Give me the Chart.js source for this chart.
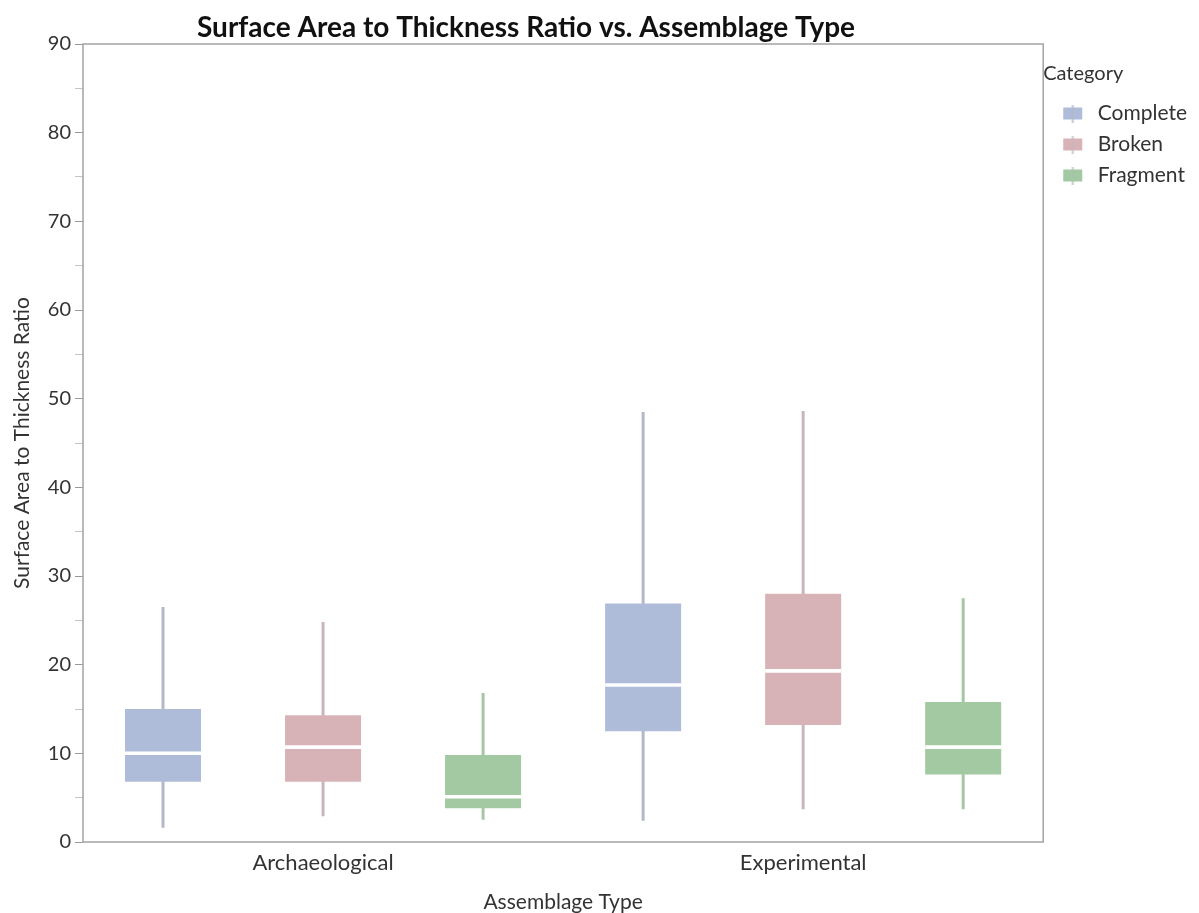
<!DOCTYPE html>
<html>
<head>
<meta charset="utf-8">
<script src="https://cdn.jsdelivr.net/npm/chart.js@4/dist/chart.umd.min.js"></script>
<style>
  html, body { margin: 0; padding: 0; background: #fff; }
  #wrap { width: 1199px; height: 913px; }
</style>
</head>
<body>
<div id="wrap"><canvas id="myChart" width="1199" height="913"></canvas></div>
<script>
// data
const assemblage = ["Archaeological", "Experimental"];
const groups = ["Complete", "Broken", "Fragment"];
const yTicks = [0, 10, 20, 30, 40, 50, 60, 70, 80, 90];

// per group: [Archaeological, Experimental]
const whiskerLow = { Complete: [1.6, 2.4], Broken: [2.9, 3.7], Fragment: [2.5, 3.7] };
const q1 = { Complete: [6.8, 12.5], Broken: [6.8, 13.2], Fragment: [3.8, 7.6] };
const median = { Complete: [10.0, 17.7], Broken: [10.7, 19.3], Fragment: [5.1, 10.7] };
const q3 = { Complete: [15.0, 26.9], Broken: [14.3, 28.0], Fragment: [9.8, 15.8] };
const whiskerHigh = { Complete: [26.5, 48.5], Broken: [24.8, 48.6], Fragment: [16.8, 27.5] };

const boxColor = { Complete: "#afbcd9", Broken: "#d7b3b8", Fragment: "#a3c9a3" };
const whiskerColor = { Complete: "#b2b8c8", Broken: "#c8b6ba", Fragment: "#a6c6a6" };

const titleText = "Surface Area to Thickness Ratio vs. Assemblage Type";
const fontFamily = "Lato, 'Noto Sans', sans-serif";
const medianHalf = 0.2;

Chart.defaults.font.family = fontFamily;
Chart.defaults.color = "#333";

let datasets = [];
groups.forEach((g) => {
  datasets.push({
    label: g + " whisker",
    stack: g,
    data: assemblage.map((a, i) => [whiskerLow[g][i], whiskerHigh[g][i]]),
    backgroundColor: whiskerColor[g],
    maxBarThickness: 3,
    order: 3,
  });
  datasets.push({
    label: g,
    stack: g,
    data: assemblage.map((a, i) => [q1[g][i], q3[g][i]]),
    backgroundColor: boxColor[g],
    barPercentage: 0.475,
    order: 2,
  });
  datasets.push({
    label: g + " median",
    stack: g,
    data: assemblage.map((a, i) => [median[g][i] - medianHalf, median[g][i] + medianHalf]),
    backgroundColor: "#ffffff",
    barPercentage: 0.475,
    order: 1,
  });
});

// little box-plot icons for the legend
const legendIcon = {};
groups.forEach((g) => {
  const c = document.createElement("canvas");
  c.width = 34;
  c.height = 18;
  const x = c.getContext("2d");
  x.fillStyle = boxColor[g];
  x.fillRect(10, 3, 19, 12);
  x.fillStyle = whiskerColor[g];
  x.globalAlpha = 0.8;
  x.fillRect(18.5, 0, 2, 18);
  legendIcon[g] = c;
});

// frame round the plot + title
const framePlugin = {
  id: "frame",
  afterDraw(chart) {
    const { ctx, chartArea } = chart;
    ctx.save();
    ctx.strokeStyle = "#a3a3a3";
    ctx.lineWidth = 1.5;
    ctx.strokeRect(chartArea.left, chartArea.top, chartArea.right - chartArea.left, chartArea.bottom - chartArea.top);
    ctx.font = "bold 28px " + fontFamily;
    ctx.fillStyle = "#111";
    ctx.textAlign = "center";
    ctx.textBaseline = "middle";
    ctx.fillText(titleText, 526, 28);
    ctx.restore();
  },
};

const ctx = document.querySelector("#myChart").getContext("2d");
const chart = new Chart(ctx, {
  type: "bar",
  data: { labels: assemblage, datasets: datasets },
  plugins: [framePlugin],
  options: {
    responsive: false,
    animation: false,
    layout: { padding: { top: 44, right: 2, left: 0, bottom: 0 } },
    datasets: { bar: { categoryPercentage: 1.0 } },
    plugins: {
      tooltip: { enabled: false },
      title: { display: false },
      legend: {
        position: "right",
        align: "start",
        title: { display: true, text: "Category", position: "start", font: { size: 20 }, color: "#333", padding: { top: 20, bottom: 5 } },
        labels: {
          usePointStyle: true,
          pointStyleWidth: 34,
          boxHeight: 18,
          padding: 10,
          font: { size: 21 },
          color: "#333",
          generateLabels: () =>
            groups.map((g, i) => ({
              text: g,
              pointStyle: legendIcon[g],
              fillStyle: boxColor[g],
              strokeStyle: boxColor[g],
              lineWidth: 0,
              hidden: false,
              fontColor: "#333",
              datasetIndex: i * 3 + 1,
            })),
        },
      },
    },
    scales: {
      x: {
        stacked: true,
        grid: { display: false },
        border: { display: false },
        ticks: { font: { size: 22 }, color: "#333", padding: 0 },
        title: { display: true, text: "Assemblage Type", font: { size: 21 }, color: "#333", padding: { top: 2, bottom: -2 } },
        afterFit(scale) { scale.height = 71; },
      },
      y: {
        stacked: false,
        min: 0,
        max: 90,
        grid: {
          drawOnChartArea: false,
          tickLength: 8,
          tickColor: (c) => (c.tick && c.tick.value % 10 === 0 ? "#999" : "#c4c4c4"),
        },
        border: { display: false },
        ticks: {
          stepSize: 5,
          font: { size: 20 },
          color: "#333",
          padding: 4,
          autoSkip: false,
          callback: (v) => (yTicks.includes(v) ? v : ""),
        },
        title: { display: true, text: "Surface Area to Thickness Ratio", font: { size: 21 }, color: "#333", padding: { top: 10, bottom: 2 } },
        afterFit(scale) { scale.width = 83; },
      },
    },
  },
});
</script>
</body>
</html>
